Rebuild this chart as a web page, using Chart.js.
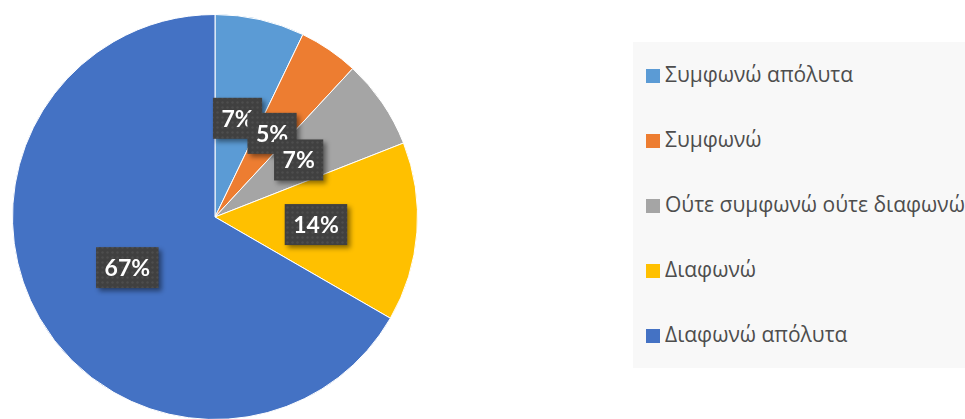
<!DOCTYPE html>
<html lang="el">
<head>
<meta charset="UTF-8">
<title>Pie</title>
<style>
  html, body {
    margin: 0;
    padding: 0;
    width: 965px;
    height: 419px;
    overflow: hidden;
    background: #ffffff;
    position: relative;
  }
  #pieWrap {
    position: absolute;
    left: 0;
    top: 0;
    width: 430px;
    height: 434px;
  }
  #legend {
    position: absolute;
    left: 633px;
    top: 42px;
    width: 360px;
    height: 326px;
    background: #f8f8f8;
    font-family: "Open Sans", sans-serif;
    font-size: 21px;
    color: #4d4d4d;
  }
  .item {
    position: absolute;
    left: 13px;
    white-space: nowrap;
    line-height: 21px;
  }
  .item span.box {
    display: inline-block;
    width: 14px;
    height: 14px;
    margin-right: 5px;
    vertical-align: -1px;
  }
</style>
</head>
<body>
<div id="pieWrap"><canvas id="pie"></canvas></div>
<div id="legend"></div>
<script src="https://cdn.jsdelivr.net/npm/chart.js"></script>
<script>
  var categories = ['Συμφωνώ απόλυτα', 'Συμφωνώ', 'Ούτε συμφωνώ ούτε διαφωνώ', 'Διαφωνώ', 'Διαφωνώ απόλυτα'];
  var answers = [3, 2, 3, 6, 28];
  var colours = ['#5b9bd5', '#ed7d31', '#a5a5a5', '#ffc000', '#4472c4'];

  // legend on the right, built from the same arrays
  var legend = document.getElementById('legend');
  categories.forEach(function(name, i) {
    var div = document.createElement('div');
    div.className = 'item';
    div.style.top = (22 + i * 65) + 'px';
    div.innerHTML = '<span class="box" style="background:' + colours[i] + '"></span>' + name;
    legend.appendChild(div);
  });

  // dotted dark fill for the data label boxes
  function dotPattern(ctx) {
    var c = document.createElement('canvas');
    c.width = 5; c.height = 5;
    var p = c.getContext('2d');
    p.fillStyle = '#404040';
    p.fillRect(0, 0, 5, 5);
    p.fillStyle = 'rgba(255,255,255,0.07)';
    p.beginPath();
    p.arc(2.5, 2.5, 1.3, 0, Math.PI * 2);
    p.fill();
    return ctx.createPattern(c, 'repeat');
  }

  var pctLabels = {
    id: 'pctLabels',
    afterDatasetsDraw: function(chart) {
      var ctx = chart.ctx;
      var data = chart.data.datasets[0].data;
      var total = data.reduce(function(a, b) { return a + b; }, 0);
      var fill = dotPattern(ctx);
      ctx.save();
      ctx.font = 'bold 23px Lato, "Liberation Sans", sans-serif';
      ctx.textAlign = 'center';
      ctx.textBaseline = 'middle';
      chart.getDatasetMeta(0).data.forEach(function(arc, i) {
        var pos = arc.tooltipPosition();
        var txt = Math.round(data[i] / total * 100) + '%';
        var w = ctx.measureText(txt).width + 17;
        var h = 41;
        ctx.save();
        ctx.shadowColor = 'rgba(0,0,0,0.45)';
        ctx.shadowBlur = 5;
        ctx.shadowOffsetX = 3;
        ctx.shadowOffsetY = 3;
        ctx.fillStyle = fill;
        ctx.fillRect(pos.x - w / 2, pos.y - h / 2, w, h);
        ctx.restore();
        ctx.fillStyle = '#ffffff';
        ctx.fillText(txt, pos.x, pos.y + 1);
      });
      ctx.restore();
    }
  };

  new Chart(document.getElementById('pie'), {
    type: 'pie',
    data: {
      labels: categories,
      datasets: [{
        data: answers,
        backgroundColor: colours,
        borderColor: '#ffffff',
        borderWidth: 1
      }]
    },
    options: {
      responsive: true,
      maintainAspectRatio: false,
      animation: false,
      events: [],
      layout: { padding: 12 },
      plugins: {
        legend: { display: false },
        tooltip: { enabled: false }
      }
    },
    plugins: [pctLabels]
  });
</script>
</body>
</html>
